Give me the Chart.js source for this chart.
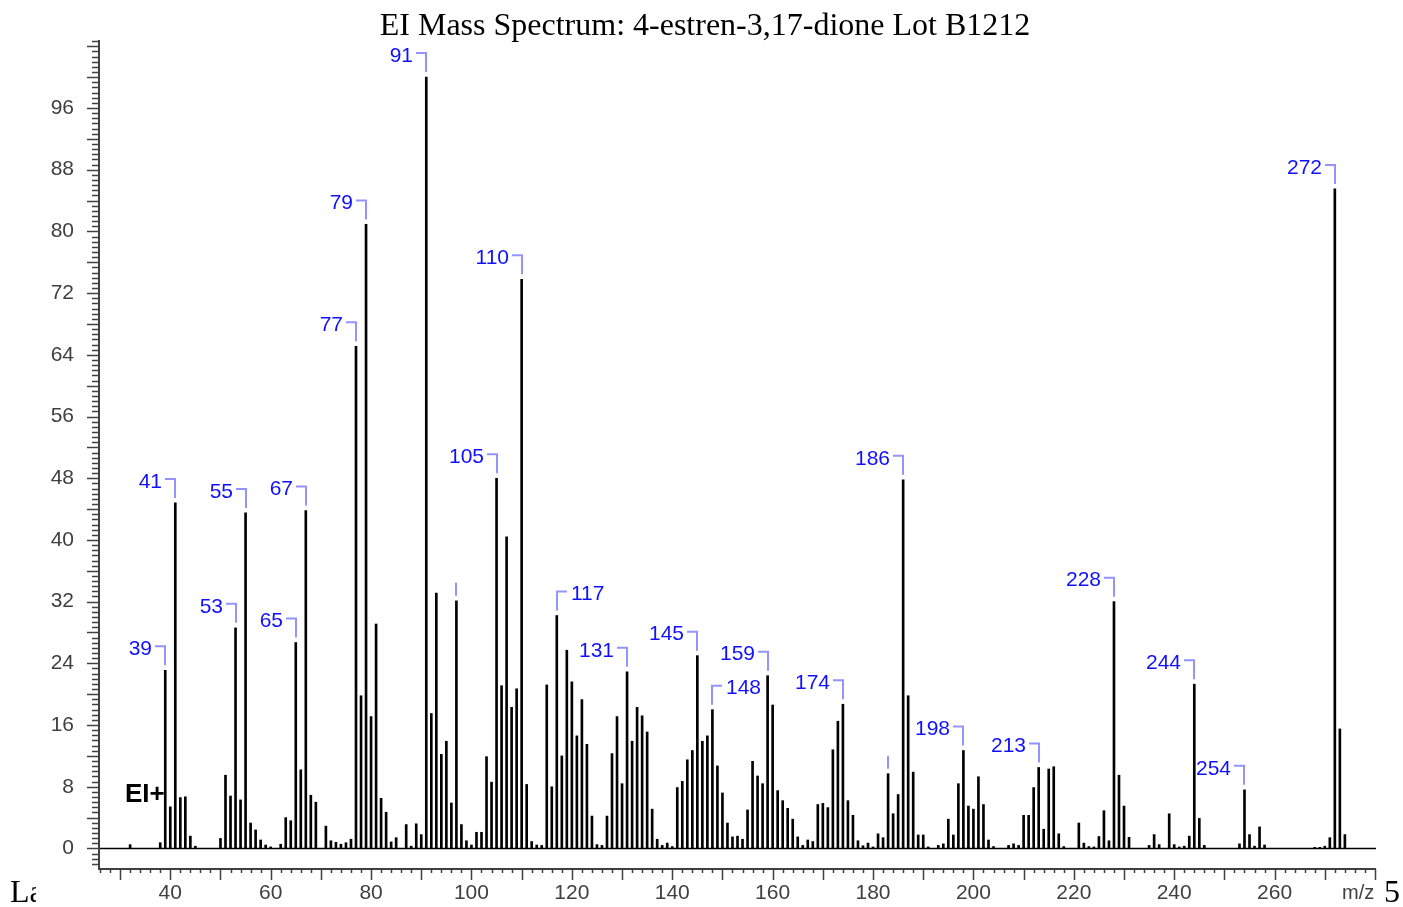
<!DOCTYPE html>
<html><head><meta charset="utf-8">
<script src="https://cdn.jsdelivr.net/npm/chart.js@4/dist/chart.umd.min.js"></script>
<style>html,body{margin:0;padding:0;background:#fff;overflow:hidden}#wrap{width:1403px;height:907px;position:relative}</style>
</head><body><div id="wrap"><canvas id="c" width="1403" height="907"></canvas></div>
<script>
// ---- data (m/z and relative intensity, %) ----
const mz = [32,38,39,40,41,42,43,44,45,50,51,52,53,54,55,56,57,58,59,60,62,63,64,65,66,67,68,69,71,72,73,74,75,76,77,78,79,80,81,82,83,84,85,87,88,89,90,91,92,93,94,95,96,97,98,99,100,101,102,103,104,105,106,107,108,109,110,111,112,113,114,115,116,117,118,119,120,121,122,123,124,125,126,127,128,129,130,131,132,133,134,135,136,137,138,139,140,141,142,143,144,145,146,147,148,149,150,151,152,153,154,155,156,157,158,159,160,161,162,163,164,165,166,167,168,169,170,171,172,173,174,175,176,177,178,179,180,181,182,183,184,185,186,187,188,189,190,191,193,194,195,196,197,198,199,200,201,202,203,204,207,208,209,210,211,212,213,214,215,216,217,218,221,222,223,224,225,226,227,228,229,230,231,235,236,237,239,240,241,242,243,244,245,246,253,254,255,256,257,258,268,269,270,271,272,273,274];
const intensity = [0.5,0.75,23.1,5.4,44.8,6.6,6.7,1.6,0.3,1.3,9.5,6.8,28.6,6.3,43.5,3.3,2.4,1.1,0.45,0.2,0.55,4.0,3.6,26.7,10.2,43.8,6.9,6.0,2.9,1.0,0.8,0.55,0.75,1.2,65.1,19.8,80.9,17.1,29.1,6.5,4.7,0.85,1.4,3.1,0.3,3.2,1.8,100,17.5,33.1,12.2,13.9,5.9,32.1,3.1,1.0,0.45,2.1,2.1,11.9,8.6,48.0,21.1,40.4,18.3,20.7,73.8,8.3,0.9,0.45,0.4,21.2,8.0,30.2,12.0,25.7,21.6,14.6,19.3,13.5,4.2,0.5,0.4,4.2,12.3,17.1,8.4,22.9,13.9,18.3,17.2,15.1,5.1,1.2,0.4,0.7,0.25,7.9,8.7,11.5,12.7,25.0,13.9,14.6,18.0,10.7,7.2,3.3,1.5,1.6,1.2,5.0,11.3,9.4,8.4,22.4,18.6,7.5,6.2,5.2,3.8,1.5,0.4,1.1,0.9,5.7,5.85,5.3,12.8,16.5,18.7,6.2,4.3,1.0,0.35,0.7,0.2,1.9,1.4,9.7,4.5,7.0,47.8,19.8,9.9,1.75,1.75,0.2,0.4,0.6,3.8,1.75,8.4,12.7,5.5,5.1,9.3,5.7,1.1,0.25,0.4,0.6,0.4,4.3,4.3,7.9,10.5,2.5,10.3,10.6,1.9,0.25,3.3,0.7,0.25,0.2,1.55,4.9,1.0,32.0,9.5,5.5,1.45,0.4,1.8,0.5,4.5,0.5,0.2,0.3,1.6,21.3,3.9,0.4,0.6,7.6,1.8,0.3,2.8,0.45,0.15,0.15,0.3,1.4,85.5,15.5,1.8];
// annotated peaks
const labeledPeaks = [39,41,53,55,65,67,77,79,91,105,110,131,145,159,174,186,198,213,228,244,254,272];
const rightSidePeaks = [117,148];
const markOnlyPeaks = [97,183];
// tick labels
const xTickLabels = [40,60,80,100,120,140,160,180,200,220,240,260];
const yTickLabels = [0,8,16,24,32,40,48,56,64,72,80,88,96];
const titleText = 'EI Mass Spectrum: 4-estren-3,17-dione Lot B1212';

const SANS = '"Liberation Sans", Arial, Helvetica, sans-serif';
const SERIF = '"Liberation Serif", "Times New Roman", serif';
const AXIS = '#404040';

const decor = {
  id: 'decor',
  afterDatasetsDraw(chart) {
    const {ctx, chartArea: a, scales: {x, y}} = chart;
    ctx.save();
    // baseline at zero
    const y0 = y.getPixelForValue(0);
    ctx.strokeStyle = '#000'; ctx.lineWidth = 1.5;
    ctx.beginPath(); ctx.moveTo(a.left, y0); ctx.lineTo(a.right, y0); ctx.stroke();
    // axes
    ctx.strokeStyle = AXIS; ctx.lineWidth = 2;
    ctx.beginPath(); ctx.moveTo(a.left, a.top); ctx.lineTo(a.left, a.bottom + 1); ctx.lineTo(a.right, a.bottom + 1); ctx.stroke();
    ctx.lineWidth = 1.5;
    ctx.beginPath();
    for (const t of y.ticks) {
      const k = Math.round(t.value * 1.5);
      const len = (k % 6 === 0) ? 12 : 7;
      const py = Math.round(y.getPixelForValue(t.value)) + 0.5;
      ctx.moveTo(a.left - len, py); ctx.lineTo(a.left, py);
    }
    for (const t of x.ticks) {
      const len = (t.value % 10 === 0) ? 11 : 4;
      const px = Math.round(x.getPixelForValue(t.value)) + 0.5;
      ctx.moveTo(px, a.bottom + 1); ctx.lineTo(px, a.bottom + 1 + len);
    }
    ctx.stroke();
    // peak annotations
    ctx.font = '21px ' + SANS;
    ctx.textBaseline = 'middle';
    const all = labeledPeaks.map(m => [m, 'L']).concat(rightSidePeaks.map(m => [m, 'R']), markOnlyPeaks.map(m => [m, 'M']));
    for (const [m, side] of all) {
      const i = mz.indexOf(m);
      const px = Math.round(x.getPixelForValue(m));
      const py = y.getPixelForValue(intensity[i]);
      const yb = py - 5, yt = py - 24;
      ctx.strokeStyle = '#9494ff'; ctx.lineWidth = 2;
      ctx.beginPath();
      if (side === 'M') {
        ctx.moveTo(px, yb); ctx.lineTo(px, py - 18); ctx.stroke();
        continue;
      }
      ctx.moveTo(px, yb); ctx.lineTo(px, yt);
      ctx.lineTo(side === 'L' ? px - 10 : px + 10, yt);
      ctx.stroke();
      ctx.fillStyle = '#1010ff';
      ctx.textAlign = side === 'L' ? 'right' : 'left';
      ctx.fillText(String(m), side === 'L' ? px - 13 : px + 14, yt + 3);
    }
    ctx.restore();
  },
  afterDraw(chart) {
    const {ctx} = chart;
    ctx.save();
    ctx.fillStyle = '#000';
    ctx.textBaseline = 'alphabetic';
    ctx.textAlign = 'center';
    ctx.font = '32px ' + SERIF;
    ctx.fillText(titleText, 705, 35);
    ctx.textAlign = 'left';
    ctx.font = 'bold 26px ' + SANS;
    ctx.fillText('EI+', 125, 802);
    ctx.fillStyle = AXIS;
    ctx.font = '20px ' + SANS;
    ctx.fillText('m/z', 1342, 899);
    ctx.fillStyle = '#000';
    ctx.font = '32px ' + SERIF;
    ctx.save(); ctx.beginPath(); ctx.rect(0, 860, 36, 47); ctx.clip();
    ctx.fillText('La', 10, 902); ctx.restore();
    ctx.fillText('5', 1384, 902);
    ctx.restore();
  }
};

new Chart(document.getElementById('c'), {
  type: 'bar',
  data: {
    datasets: [{
      data: mz.map((m, i) => ({x: m, y: intensity[i]})),
      backgroundColor: '#000',
      borderWidth: 0,
      barThickness: 2
    }]
  },
  options: {
    responsive: false,
    animation: false,
    layout: {padding: {top: 40, right: 27, left: 0, bottom: 0}},
    plugins: {legend: {display: false}, tooltip: {enabled: false}, title: {display: false}},
    scales: {
      x: {
        type: 'linear', min: 25.8, max: 280.2, offset: false,
        grid: {display: false, drawTicks: false}, border: {display: false},
        afterBuildTicks(s) { const t = []; for (let v = 26; v <= 280; v += 2) t.push({value: v}); s.ticks = t; },
        afterFit(s) { s.height = 39; },
        ticks: {
          autoSkip: false, maxRotation: 0, minRotation: 0, padding: 13,
          color: AXIS, font: {family: SANS, size: 21},
          callback: v => xTickLabels.includes(v) ? String(v) : ''
        }
      },
      y: {
        type: 'linear', min: -2.53, max: 104.81,
        grid: {display: false, drawTicks: false}, border: {display: false},
        afterBuildTicks(s) { const t = []; for (let k = -3; k <= 157; k++) t.push({value: k * 2 / 3}); s.ticks = t; },
        afterFit(s) { s.width = 99; },
        ticks: {
          autoSkip: false, padding: 25,
          color: AXIS, font: {family: SANS, size: 21},
          callback: v => { const r = Math.round(v); return (Math.abs(v - r) < 1e-6 && yTickLabels.includes(r)) ? String(r) : ''; }
        }
      }
    }
  },
  plugins: [decor]
});
</script></body></html>
